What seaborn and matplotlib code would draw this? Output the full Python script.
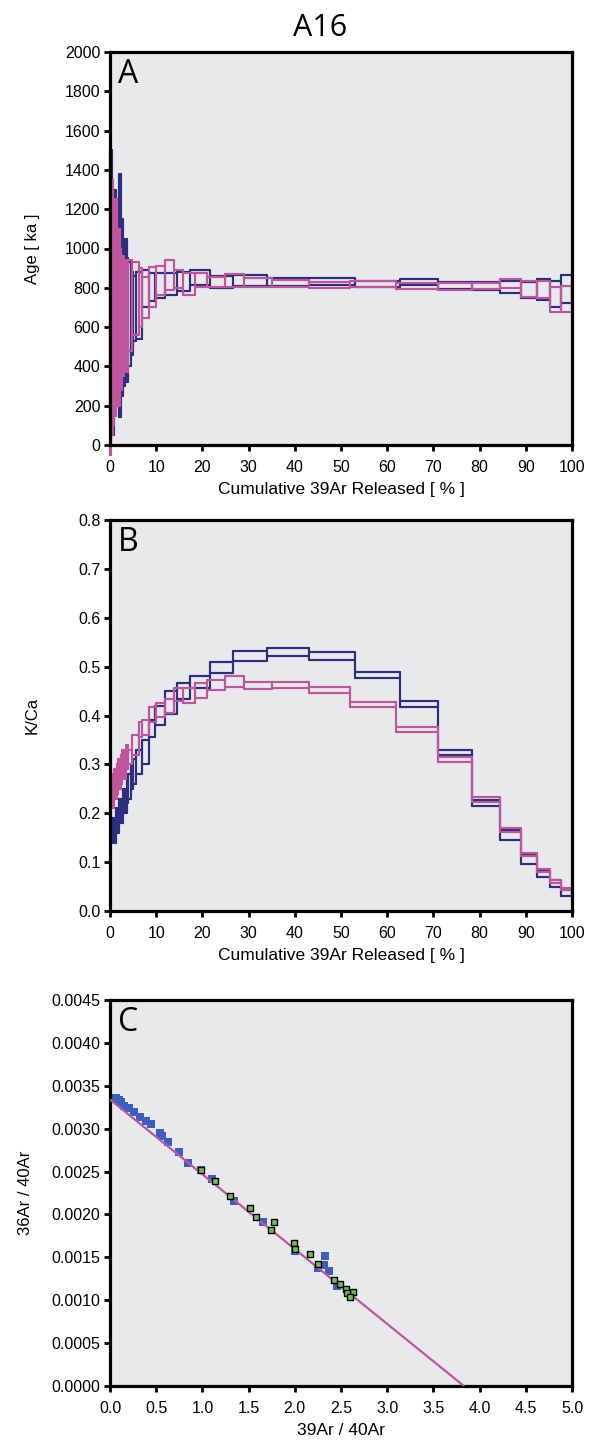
import numpy as np
import pandas as pd
import matplotlib
matplotlib.use("Agg")
import matplotlib.pyplot as plt
from matplotlib.ticker import FormatStrFormatter, MultipleLocator
import seaborn as sns

# ---------------- data ----------------
navy_edges = [0, 0.4, 0.8, 1.2, 1.6, 2.0, 2.4, 2.8, 3.2, 3.6, 4.0, 4.5, 5.0, 5.7, 6.9,
              8.5, 9.7, 11.9, 14.4, 17.3, 21.6, 26.6, 34.0, 43.0, 53.0, 62.8, 71.0,
              78.4, 84.4, 89.0, 92.4, 95.2, 97.6, 100.0]
navy_age_hi = [1500, 1200, 1300, 1100, 1250, 1380, 1150, 1000, 1050, 950, 930, 880, 860,
               880, 890, 875, 874, 874, 880, 890, 860, 865, 850, 851, 836, 845, 828, 828,
               836, 831, 845, 836, 865]
navy_age_lo = [150, 50, 250, 200, 300, 140, 250, 300, 350, 320, 400, 460, 530,
               540, 700, 735, 747, 763, 785, 814, 800, 809, 810, 814, 806, 812, 792, 790,
               772, 746, 738, 704, 721]
navy_kca_hi = [0.17, 0.19, 0.18, 0.21, 0.20, 0.23, 0.22, 0.25, 0.24, 0.27, 0.28, 0.30, 0.31,
               0.33, 0.35, 0.39, 0.42, 0.45, 0.467, 0.481, 0.510, 0.532, 0.539, 0.529, 0.490,
               0.430, 0.329, 0.227, 0.166, 0.115, 0.082, 0.063, 0.042]
navy_kca_lo = [0.14, 0.15, 0.14, 0.16, 0.16, 0.18, 0.18, 0.20, 0.20, 0.22, 0.23, 0.25, 0.26,
               0.28, 0.30, 0.355, 0.38, 0.403, 0.434, 0.456, 0.487, 0.512, 0.522, 0.513, 0.476,
               0.417, 0.319, 0.215, 0.145, 0.097, 0.070, 0.050, 0.031]

pink_edges = [0, 0.3, 0.6, 0.9, 1.2, 1.5, 1.8, 2.1, 2.4, 2.7, 3.0, 3.4, 3.97, 4.83, 6.28,
              7.0, 8.44, 9.88, 11.9, 13.85, 15.9, 18.4, 21.1, 24.9, 28.9, 35.0, 43.0, 52.0,
              62.0, 71.0, 78.4, 84.4, 89.0, 92.4, 95.2, 97.6, 100.0]
pink_age_hi = [1500, 1350, 1250, 1150, 1250, 1050, 1100, 1000, 950, 960, 920, 940, 941, 930,
               900, 857, 907, 911, 941, 890, 875, 877, 857, 870, 848, 840, 831, 836, 823,
               822, 826, 845, 836, 836, 806, 811]
pink_age_lo = [-50, 50, 100, 150, 200, 250, 200, 300, 280, 350, 420, 370, 480, 560,
               600, 645, 704, 763, 789, 800, 763, 803, 806, 806, 803, 806, 797, 806, 792,
               790, 792, 797, 755, 746, 678, 678]
pink_kca_hi = [0.26, 0.28, 0.27, 0.29, 0.28, 0.30, 0.31, 0.30, 0.32, 0.33, 0.32, 0.34, 0.33,
               0.36, 0.386, 0.39, 0.417, 0.426, 0.434, 0.456, 0.456, 0.466, 0.473, 0.481,
               0.469, 0.469, 0.459, 0.428, 0.377, 0.316, 0.233, 0.170, 0.119, 0.086, 0.063,
               0.047]
pink_kca_lo = [0.20, 0.22, 0.21, 0.23, 0.23, 0.24, 0.25, 0.25, 0.26, 0.27, 0.27, 0.29, 0.30,
               0.32, 0.355, 0.36, 0.387, 0.397, 0.405, 0.43, 0.425, 0.436, 0.453, 0.459,
               0.454, 0.456, 0.447, 0.417, 0.367, 0.305, 0.224, 0.162, 0.112, 0.080, 0.058,
               0.042]

# isochron (39Ar/40Ar, 36Ar/40Ar)
blue_x = [0.02, 0.06, 0.10, 0.12, 0.15, 0.21, 0.26, 0.33, 0.39, 0.44, 0.54, 0.56, 0.63,
          0.75, 0.84, 0.98, 1.10, 1.34, 1.66, 2.00, 2.25, 2.33, 2.32, 2.37, 2.46]
blue_y = [0.00335, 0.00336, 0.00334, 0.00331, 0.00326, 0.00324, 0.00320, 0.00314, 0.00309,
          0.00305, 0.00295, 0.00292, 0.00284, 0.00273, 0.00260, 0.00252, 0.00241, 0.00216,
          0.00191, 0.00157, 0.00138, 0.00152, 0.00141, 0.00134, 0.00116]
green_x = [0.98, 1.14, 1.30, 1.52, 1.58, 1.77, 1.74, 1.99, 2.00, 2.16, 2.25, 2.42, 2.49,
           2.55, 2.63, 2.57, 2.60]
green_y = [0.00252, 0.00239, 0.00222, 0.00208, 0.00197, 0.00191, 0.00182, 0.00167, 0.00160,
           0.00154, 0.00142, 0.00123, 0.00119, 0.00113, 0.00110, 0.00108, 0.00104]
iso_y_intercept = 0.00334
iso_x_intercept = 3.83

NAVY = "#2c2f80"
PINK = "#c0559e"
BLUE = "#3c5ec0"
GREEN = "#6cc24a"
BG = "#e8e9eb"


def outline(edges, hi, lo):
    """Upper and lower step lines joined into one closed path."""
    xs, ys = [], []
    for i in range(len(hi)):
        xs += [edges[i], edges[i + 1]]
        ys += [hi[i], hi[i]]
    for i in reversed(range(len(lo))):
        xs += [edges[i + 1], edges[i]]
        ys += [lo[i], lo[i]]
    xs.append(edges[0])
    ys.append(hi[0])
    return pd.DataFrame({"x": xs, "y": ys})


def boxes(edges, hi, lo):
    """One closed rectangle per heating step."""
    rows = []
    for i in range(len(hi)):
        x0, x1 = edges[i], edges[i + 1]
        for x, y in ((x0, lo[i]), (x0, hi[i]), (x1, hi[i]), (x1, lo[i]), (x0, lo[i])):
            rows.append((x, y, i))
    return pd.DataFrame(rows, columns=["x", "y", "step"])


def spectrum(ax, edges, hi, lo, color, clip=True):
    sns.lineplot(data=boxes(edges, hi, lo), x="x", y="y", units="step", sort=False,
                 estimator=None, color=color, lw=1.5, ax=ax, clip_on=clip)
    sns.lineplot(data=outline(edges, hi, lo), x="x", y="y", sort=False,
                 estimator=None, color=color, lw=1.5, ax=ax, clip_on=clip)


sns.set_theme(style="ticks")
plt.rcParams["font.family"] = ["Liberation Sans", "DejaVu Sans"]
plt.rcParams["text.color"] = "black"
plt.rcParams["axes.labelcolor"] = "black"
plt.rcParams["xtick.color"] = "black"
plt.rcParams["ytick.color"] = "black"

fig = plt.figure(figsize=(5.89, 14.46), dpi=100)
W, H = 589, 1446
L, R = 110, 572
axA = fig.add_axes([L / W, 1 - 445 / H, (R - L) / W, 393 / H])
axB = fig.add_axes([L / W, 1 - 911 / H, (R - L) / W, 391 / H])
axC = fig.add_axes([L / W, 1 - 1386 / H, (R - L) / W, 386 / H])

for ax in (axA, axB, axC):
    ax.set_facecolor(BG)
    for s in ax.spines.values():
        s.set_visible(True)
        s.set_linewidth(2.3)
        s.set_color("black")
    ax.tick_params(direction="out", length=4, width=2, labelsize=11.5,
                   colors="black", labelcolor="black", top=False, right=False)
    ax.tick_params(axis="x", pad=7)
    ax.tick_params(axis="y", pad=3)

# Panel A
spectrum(axA, navy_edges, navy_age_hi, navy_age_lo, NAVY, clip=False)
spectrum(axA, pink_edges, pink_age_hi, pink_age_lo, PINK, clip=False)
axA.set_xlim(0, 100)
axA.set_ylim(0, 2000)
axA.xaxis.set_major_locator(MultipleLocator(10))
axA.yaxis.set_major_locator(MultipleLocator(200))
axA.set_xlabel("Cumulative 39Ar Released [ % ]", fontsize=12.5, labelpad=5, color="black")
axA.set_ylabel("Age [ ka ]", fontsize=12, color="black")
axA.yaxis.set_label_coords(-0.152, 0.5)

# Panel B
spectrum(axB, navy_edges, navy_kca_hi, navy_kca_lo, NAVY)
spectrum(axB, pink_edges, pink_kca_hi, pink_kca_lo, PINK)
axB.set_xlim(0, 100)
axB.set_ylim(0, 0.8)
axB.xaxis.set_major_locator(MultipleLocator(10))
axB.yaxis.set_major_locator(MultipleLocator(0.1))
axB.yaxis.set_major_formatter(FormatStrFormatter("%.1f"))
axB.set_xlabel("Cumulative 39Ar Released [ % ]", fontsize=12.5, labelpad=5, color="black")
axB.set_ylabel("K/Ca", fontsize=12, color="black")
axB.yaxis.set_label_coords(-0.152, 0.5)

# Panel C
sns.scatterplot(x=blue_x, y=blue_y, marker="s", s=30, color=BLUE, edgecolor=BLUE,
                linewidth=0, ax=axC, zorder=2)
line_x = np.linspace(0, iso_x_intercept, 50)
line_y = iso_y_intercept * (1 - line_x / iso_x_intercept)
sns.lineplot(x=line_x, y=line_y, color=PINK, lw=1.6, ax=axC, zorder=3)
sns.scatterplot(x=green_x, y=green_y, marker="s", s=22, color=GREEN, edgecolor="black",
                linewidth=1.0, ax=axC, zorder=4)
axC.set_xlim(0, 5)
axC.set_ylim(0, 0.0045)
axC.xaxis.set_major_locator(MultipleLocator(0.5))
axC.yaxis.set_major_locator(MultipleLocator(0.0005))
axC.xaxis.set_major_formatter(FormatStrFormatter("%.1f"))
axC.yaxis.set_major_formatter(FormatStrFormatter("%.4f"))
axC.set_xlabel("39Ar / 40Ar", fontsize=12.5, labelpad=5, color="black")
axC.set_ylabel("36Ar / 40Ar", fontsize=12, color="black")
axC.yaxis.set_label_coords(-0.167, 0.5)

for ax, letter in ((axA, "A"), (axB, "B"), (axC, "C")):
    ax.text(0.018, 0.985, letter, transform=ax.transAxes, ha="left", va="top",
            fontsize=23, family=["Open Sans", "DejaVu Sans"], color="black")

fig.text(320 / W, 1 - 28 / H, "A16", ha="center", va="center", fontsize=22,
         family=["Open Sans", "DejaVu Sans"], color="black")

fig.savefig("out.png", dpi=100)
